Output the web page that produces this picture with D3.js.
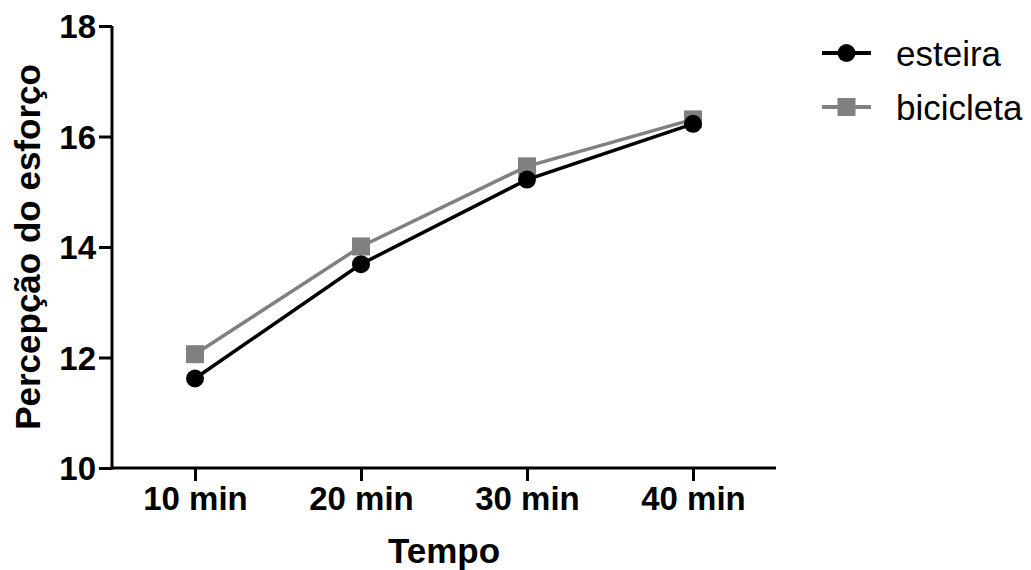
<!DOCTYPE html>
<html>
<head>
<meta charset="utf-8">
<script src="https://cdn.jsdelivr.net/npm/d3@7"></script>
<style>
  body { margin: 0; background: #fff; }
  svg { font-family: "Liberation Sans", Arial, sans-serif; }
</style>
</head>
<body>
<div class="chart"></div>
<script>
// dados
var tempos = ['10 min', '20 min', '30 min', '40 min'];
var esteira = [11.62, 13.69, 15.22, 16.23];
var bicicleta = [12.06, 14.01, 15.46, 16.31];
var yTicks = [10, 12, 14, 16, 18];

var width = 1031, height = 570;
var svg = d3.select('.chart').append('svg')
  .attr('width', width)
  .attr('height', height);

var padLeft = 112, padRight = 776, padTop = 26, padBottom = 468;

var x = d3.scalePoint()
  .domain(tempos)
  .range([padLeft, padRight])
  .padding(0.5);

var y = d3.scaleLinear()
  .domain([10, 18])
  .range([padBottom, padTop]);

// eixos
var xAxis = svg.append('g')
  .attr('transform', 'translate(0,' + padBottom + ')')
  .call(d3.axisBottom(x).tickSize(13).tickPadding(6).tickSizeOuter(0));
var yAxis = svg.append('g')
  .attr('transform', 'translate(' + padLeft + ',0)')
  .call(d3.axisLeft(y).tickValues(yTicks).tickSize(13).tickPadding(3).tickSizeOuter(0));

[xAxis, yAxis].forEach(function (a) {
  a.attr('font-size', 33).attr('font-family', null);
  a.select('.domain').attr('stroke', '#000').attr('stroke-width', 3);
  a.selectAll('.tick line').attr('stroke', '#000').attr('stroke-width', 3);
  a.selectAll('.tick text')
    .attr('fill', '#000')
    .attr('font-weight', 'bold');
});
// ajuste do domínio para cobrir a espessura da linha
xAxis.select('.domain').attr('d', 'M' + (padLeft - 1.5) + ',0H' + padRight);
yAxis.select('.domain').attr('d', 'M0,' + (padBottom + 1.5) + 'V' + padTop);
yAxis.selectAll('.tick text').attr('dy', '0.36em');

// títulos
svg.append('text')
  .attr('x', (padLeft + padRight) / 2)
  .attr('y', 563)
  .attr('text-anchor', 'middle')
  .attr('font-size', 35)
  .attr('font-weight', 'bold')
  .text('Tempo');

svg.append('text')
  .attr('transform', 'translate(40,' + ((padTop + padBottom) / 2) + ') rotate(-90)')
  .attr('text-anchor', 'middle')
  .attr('font-size', 35)
  .attr('font-weight', 'bold')
  .text('Percepção do esforço');

// séries
var series = [
  { name: 'esteira', values: esteira, color: '#000', shape: 'circle' },
  { name: 'bicicleta', values: bicicleta, color: '#808080', shape: 'square' }
];

var line = d3.line()
  .x(function (d, i) { return x(tempos[i]); })
  .y(function (d) { return y(d); });

series.slice().reverse().forEach(function (s) {
  var g = svg.append('g');
  g.append('path')
    .attr('d', line(s.values))
    .attr('fill', 'none')
    .attr('stroke', s.color)
    .attr('stroke-width', 3.5);
  if (s.shape === 'circle') {
    g.selectAll('circle')
      .data(s.values)
      .enter()
      .append('circle')
      .attr('cx', function (d, i) { return x(tempos[i]); })
      .attr('cy', function (d) { return y(d); })
      .attr('r', 9)
      .attr('fill', s.color);
  } else {
    g.selectAll('rect')
      .data(s.values)
      .enter()
      .append('rect')
      .attr('x', function (d, i) { return x(tempos[i]) - 9; })
      .attr('y', function (d) { return y(d) - 9; })
      .attr('width', 18)
      .attr('height', 18)
      .attr('fill', s.color);
  }
});

// legenda
var legend = svg.append('g').attr('transform', 'translate(822,53)');
series.forEach(function (s, i) {
  var item = legend.append('g').attr('transform', 'translate(0,' + (i * 54) + ')');
  item.append('line')
    .attr('x1', 0).attr('x2', 49)
    .attr('y1', 0).attr('y2', 0)
    .attr('stroke', s.color)
    .attr('stroke-width', 4);
  if (s.shape === 'circle') {
    item.append('circle').attr('cx', 24.5).attr('cy', 0).attr('r', 9).attr('fill', s.color);
  } else {
    item.append('rect').attr('x', 15.5).attr('y', -9).attr('width', 18).attr('height', 18).attr('fill', s.color);
  }
  item.append('text')
    .attr('x', 74)
    .attr('y', 0)
    .attr('dy', '0.36em')
    .attr('font-size', 35)
    .text(s.name);
});
</script>
</body>
</html>
